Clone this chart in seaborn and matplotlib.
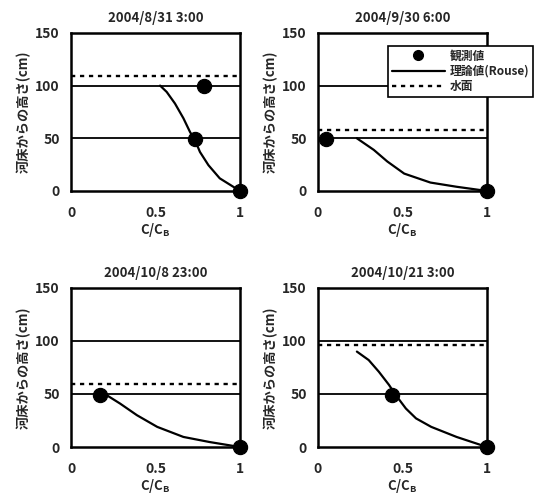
import pandas as pd
import numpy as np
import matplotlib
matplotlib.use('Agg')
import matplotlib.pyplot as plt
import seaborn as sns
from matplotlib.lines import Line2D

# DATA
titles = ['2004/8/31 3:00', '2004/9/30 6:00', '2004/10/8 23:00', '2004/10/21 3:00']
water_level = [109, 58, 59, 96]

obs_x = [[0.787, 0.734, 1.0], [0.05, 1.0], [0.17, 1.0], [0.435, 1.0]]
obs_y = [[100, 49, 0], [49, 0], [49, 0], [49, 0]]

theory_x = [
    [0.527, 0.566, 0.615, 0.665, 0.704, 0.734, 0.763, 0.813, 0.88, 1.0],
    [0.23, 0.33, 0.41, 0.51, 0.665, 0.82, 1.0],
    [0.21, 0.29, 0.39, 0.51, 0.665, 0.82, 1.0],
    [0.23, 0.30, 0.36, 0.42, 0.46, 0.52, 0.58, 0.67, 0.82, 1.0],
]
theory_y = [
    [100, 94, 83, 69, 56, 48, 37, 24.5, 12, 0],
    [50, 39, 28, 16.5, 8, 4, 0],
    [49, 41, 30, 19, 9.5, 4.7, 0],
    [90, 82, 71, 58.6, 49, 36.3, 27, 19, 9.5, 0],
]

ref_lines = [50, 100]
x_ticks = [0, 0.5, 1]
x_tick_labels = ['0', '0.5', '1']
y_ticks = [0, 50, 100, 150]

legend_labels = ['観測値', '理論値(Rouse)', '水面']

# STYLE
sns.set_style('white')
plt.rcParams['font.family'] = ['Noto Sans CJK JP', 'DejaVu Sans']
plt.rcParams['font.weight'] = 'bold'
plt.rcParams['mathtext.default'] = 'regular'

fig = plt.figure(figsize=(5.34, 4.94), dpi=100)

rects = [
    [0.133, 0.6134, 0.3165, 0.32],
    [0.5955, 0.6134, 0.3165, 0.32],
    [0.133, 0.0951, 0.3165, 0.322],
    [0.5955, 0.0951, 0.3165, 0.322],
]

for i, rect in enumerate(rects):
    ax = fig.add_axes(rect)
    theory = pd.DataFrame({'x': theory_x[i], 'y': theory_y[i]})
    obs = pd.DataFrame({'x': obs_x[i], 'y': obs_y[i]})

    for level in ref_lines:
        ax.axhline(level, color='black', lw=1.3, zorder=1)
    ax.axhline(water_level[i], color='black', lw=1.7, ls=(0, (1.8, 2.0)), zorder=1)

    sns.lineplot(data=theory, x='x', y='y', ax=ax, color='black', lw=1.6,
                 sort=False, estimator=None, zorder=2)
    sns.scatterplot(data=obs, x='x', y='y', ax=ax, color='black', s=105,
                    edgecolor='black', zorder=3, clip_on=False)

    ax.set_xlim(0, 1)
    ax.set_ylim(0, 150)
    ax.set_xticks(x_ticks)
    ax.set_xticklabels(x_tick_labels)
    ax.set_yticks(y_ticks)
    ax.tick_params(length=0, labelsize=10)
    ax.tick_params(axis='x', pad=11)
    ax.tick_params(axis='y', pad=8)
    for s in ax.spines.values():
        s.set_color('black')
        s.set_linewidth(1.8)

    ax.set_title(titles[i], fontsize=9.5, fontweight='bold', pad=8)
    ax.set_xlabel('C/C$_B$', fontsize=9.5, fontweight='bold', labelpad=0.5)
    ax.set_ylabel('河床からの高さ(cm)', fontsize=9.5, fontweight='bold', labelpad=3)

handles = [
    Line2D([], [], marker='o', color='black', ls='none', markersize=7),
    Line2D([], [], color='black', lw=1.6),
    Line2D([], [], color='black', lw=1.7, ls=(0, (1.8, 2.0))),
]
leg = fig.legend(handles, legend_labels, loc='upper left',
                 bbox_to_anchor=(388 / 534, 1 - 46 / 494),
                 prop={'size': 8.5, 'weight': 'bold'},
                 handlelength=4.5, handletextpad=0.4, labelspacing=0.2,
                 borderpad=0.3, borderaxespad=0, frameon=True, fancybox=False,
                 framealpha=1)
leg.get_frame().set_edgecolor('black')
leg.get_frame().set_linewidth(1.2)

fig.savefig('out.png', dpi=100)
